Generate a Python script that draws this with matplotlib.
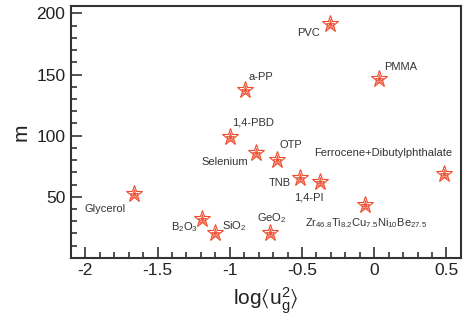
import matplotlib
matplotlib.use("Agg")
import matplotlib.pyplot as plt
from matplotlib.ticker import MultipleLocator

plt.rcParams['font.family'] = ['Liberation Sans', 'DejaVu Sans']
plt.rcParams['mathtext.fontset'] = 'custom'
plt.rcParams['mathtext.rm'] = 'Liberation Sans'
plt.rcParams['mathtext.it'] = 'Liberation Sans'
plt.rcParams['mathtext.default'] = 'regular'

# data
names = ["Glycerol", "B2O3", "SiO2", "GeO2", "TNB", "1,4-PI", "Zr", "Ferrocene",
         "PVC", "PMMA", "a-PP", "1,4-PBD", "Selenium", "OTP"]
log_u2 = [-1.66, -1.19, -1.10, -0.72, -0.515, -0.377, -0.062, 0.48,
          -0.308, 0.032, -0.894, -0.995, -0.816, -0.674]
m_vals = [52, 31.5, 20, 20, 65.5, 62, 43, 68.5,
          191.5, 146, 137.5, 99, 86, 80.5]
labels = ["Glycerol", r"B$_2$O$_3$", r"SiO$_2$", r"GeO$_2$", "TNB", "1,4-PI",
          r"Zr$_{46.8}$Ti$_{8.2}$Cu$_{7.5}$Ni$_{10}$Be$_{27.5}$",
          "Ferrocene+Dibutylphthalate", "PVC", "PMMA", "a-PP", "1,4-PBD",
          "Selenium", "OTP"]
# label anchor positions (layout)
label_pos = [(-2.007, 39.8, 'left', 'center'),
             (-1.409, 22.3, 'left', 'baseline'),
             (-1.053, 23.7, 'left', 'baseline'),
             (-0.814, 30.0, 'left', 'baseline'),
             (-0.574, 61.5, 'right', 'center'),
             (-0.554, 49.2, 'left', 'center'),
             (-0.477, 26.1, 'left', 'baseline'),
             (-0.416, 85.7, 'left', 'center'),
             (-0.372, 183.7, 'right', 'center'),
             (0.067, 155.9, 'left', 'center'),
             (-0.869, 147.8, 'left', 'center'),
             (-0.986, 110.4, 'left', 'center'),
             (-0.876, 78.6, 'right', 'center'),
             (-0.657, 92.2, 'left', 'center')]

red = '#ee4a2c'
txt = '#333333'

fig = plt.figure(figsize=(4.66, 3.22), dpi=100)
ax = fig.add_axes([0.152, 0.199, 0.837, 0.782])

ax.plot(log_u2, m_vals, linestyle='none', marker='*', markersize=12.5,
        markerfacecolor='white', markeredgecolor=red, markeredgewidth=0.8)
ax.plot(log_u2, m_vals, linestyle='none', marker='*', markersize=6.5,
        markerfacecolor='white', markeredgecolor=red, markeredgewidth=0.6)
ax.plot(log_u2, m_vals, linestyle='none', marker='*', markersize=3,
        markerfacecolor=red, markeredgecolor=red, markeredgewidth=0.4)

for (x, y, ha, va), lab in zip(label_pos, labels):
    ax.text(x, y, lab, ha=ha, va=va, fontsize=8, color=txt)

ax.set_xlim(-2.1, 0.6)
ax.set_ylim(0, 206)
ax.xaxis.set_major_locator(MultipleLocator(0.5))
ax.xaxis.set_minor_locator(MultipleLocator(0.1))
ax.yaxis.set_major_locator(MultipleLocator(50))
ax.yaxis.set_minor_locator(MultipleLocator(10))
ax.set_xticks([-2, -1.5, -1, -0.5, 0, 0.5])
ax.set_xticklabels(['-2', '-1.5', '-1', '-0.5', '0', '0.5'])
ax.set_yticks([50, 100, 150, 200])
ax.tick_params(which='both', direction='in', top=False, right=False,
               color=txt, labelcolor='#222222', width=1.2)
ax.tick_params(which='major', length=8, labelsize=12.5, pad=4)
ax.tick_params(which='minor', length=4.5)
for s in ax.spines.values():
    s.set_linewidth(1.5)
    s.set_color(txt)

ax.set_xlabel(r'log$\langle$u$_\mathrm{g}^2$$\rangle$', fontsize=15, color='#222222', labelpad=5)
ax.set_ylabel('m', fontsize=15, color='#222222', labelpad=4)

fig.savefig('out.png', dpi=100)
